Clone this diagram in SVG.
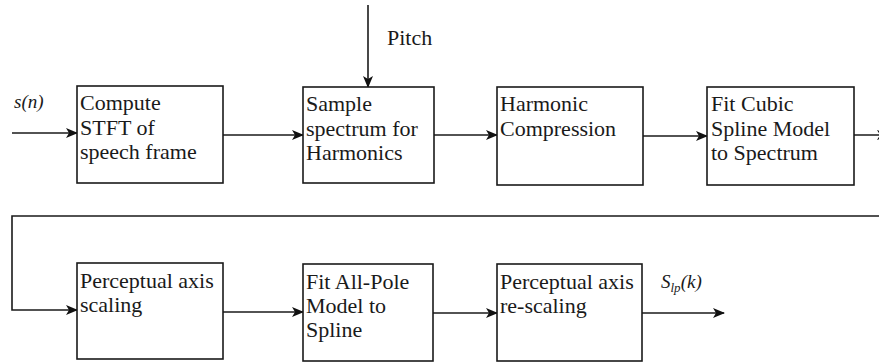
<svg xmlns="http://www.w3.org/2000/svg" width="879" height="364" viewBox="0 0 879 364">
<defs>
<marker id="arr" markerWidth="12" markerHeight="10" refX="11" refY="5" orient="auto" markerUnits="userSpaceOnUse">
<path d="M0,0 L12,5 L0,10 L3,5 Z" fill="#111"/>
</marker>
<style>
.box{fill:#fff;stroke:#1a1a1a;stroke-width:1.6}
.lbl{font-family:"Liberation Serif","Times New Roman",serif;font-size:22px;fill:#1a1a1a}
.it{font-family:"Liberation Serif","Times New Roman",serif;font-style:italic;font-size:19px;fill:#1a1a1a}
.ln{fill:none;stroke:#1a1a1a;stroke-width:1.6}
</style>
</defs>
<rect width="879" height="364" fill="#fff"/>
<g id="connectors">
<line class="ln" x1="12" y1="133" x2="77" y2="133" marker-end="url(#arr)"/>
<line class="ln" x1="223" y1="135" x2="303" y2="135" marker-end="url(#arr)"/>
<line class="ln" x1="368" y1="5" x2="368" y2="87" marker-end="url(#arr)"/>
<line class="ln" x1="434" y1="135" x2="497" y2="135" marker-end="url(#arr)"/>
<line class="ln" x1="643" y1="136" x2="707" y2="136" marker-end="url(#arr)"/>
<line class="ln" x1="854" y1="135" x2="888" y2="135" marker-end="url(#arr)"/>
<polyline class="ln" points="879,216 12,216 12,310 77,310" marker-end="url(#arr)"/>
<line class="ln" x1="223" y1="312" x2="303" y2="312" marker-end="url(#arr)"/>
<line class="ln" x1="433" y1="313" x2="497" y2="313" marker-end="url(#arr)"/>
<line class="ln" x1="642" y1="313" x2="724" y2="313" marker-end="url(#arr)"/>
<text class="lbl" x="387" y="45">Pitch</text>
<text class="it" x="14" y="108">s(n)</text>
<text class="it" x="661" y="288">S<tspan font-size="13" dy="4">lp</tspan><tspan dy="-4">(k)</tspan></text>
</g>
<g id="n1">
<rect class="box" x="77" y="86" width="146" height="97"/>
<text class="lbl" x="80" y="110">Compute</text>
<text class="lbl" x="80" y="135">STFT of</text>
<text class="lbl" x="80" y="159">speech frame</text>
</g>
<g id="n2">
<rect class="box" x="303" y="87" width="131" height="96"/>
<text class="lbl" x="306" y="111">Sample</text>
<text class="lbl" x="306" y="136">spectrum for</text>
<text class="lbl" x="306" y="160">Harmonics</text>
</g>
<g id="n3">
<rect class="box" x="497" y="87" width="146" height="98"/>
<text class="lbl" x="500" y="111">Harmonic</text>
<text class="lbl" x="500" y="136">Compression</text>
</g>
<g id="n4">
<rect class="box" x="707" y="87" width="147" height="98"/>
<text class="lbl" x="711" y="111">Fit Cubic</text>
<text class="lbl" x="711" y="136">Spline Model</text>
<text class="lbl" x="711" y="160">to Spectrum</text>
</g>
<g id="n5">
<rect class="box" x="77" y="263" width="146" height="96"/>
<text class="lbl" x="80" y="288">Perceptual axis</text>
<text class="lbl" x="80" y="312">scaling</text>
</g>
<g id="n6">
<rect class="box" x="303" y="264" width="130" height="97"/>
<text class="lbl" x="306" y="289">Fit All-Pole</text>
<text class="lbl" x="306" y="313">Model to</text>
<text class="lbl" x="306" y="337">Spline</text>
</g>
<g id="n7">
<rect class="box" x="497" y="264" width="145" height="97"/>
<text class="lbl" x="500" y="289">Perceptual axis</text>
<text class="lbl" x="500" y="313">re-scaling</text>
</g>
</svg>
